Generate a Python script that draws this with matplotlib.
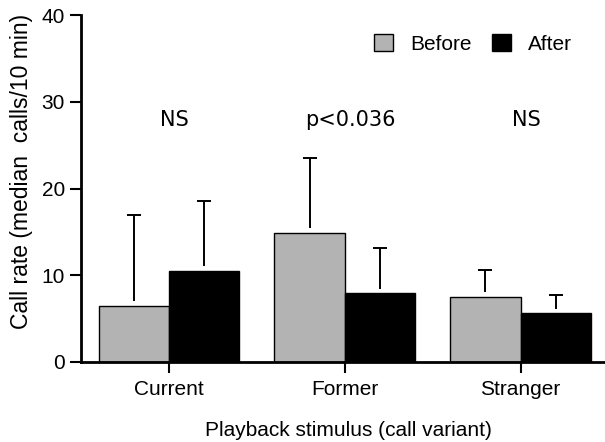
import numpy as np
import matplotlib.pyplot as plt

# median call rates before / after playback, with upper error limits
stimulus = ["Current", "Former", "Stranger"]
before = [6.5, 14.9, 7.5]
after = [10.5, 7.9, 5.6]
before_hi = [17.0, 23.5, 10.6]
after_hi = [18.6, 13.1, 7.7]
stats = ["NS", "p<0.036", "NS"]

plt.rcParams['font.family'] = ['Liberation Sans', 'DejaVu Sans']

fig = plt.figure(figsize=(6.05, 4.42), dpi=100)
ax = fig.add_axes([0.134, 0.181, 0.866, 0.785])

x = np.arange(len(stimulus))
w = 0.4
gap = 0.55  # error lines start a little above the bar top

ax.bar(x - w / 2, before, w, color='#b3b3b3', edgecolor='black', linewidth=1, label="Before")
ax.bar(x + w / 2, after, w, color='black', edgecolor='black', linewidth=1, label="After")

for xs, vals, his in [(x - w / 2, before, before_hi), (x + w / 2, after, after_hi)]:
    vals = np.array(vals)
    his = np.array(his)
    ax.vlines(xs, vals + gap, his, color='black', linewidth=1.4)
    ax.hlines(his, xs - 0.04, xs + 0.04, color='black', linewidth=1.4)

for xi, s in zip(x, stats):
    ax.text(xi + 0.03, 27.9, s, ha='center', va='center', fontsize=15, family='DejaVu Sans')

ax.set_xlim(-0.5, 2.48)
ax.set_ylim(0, 40)
ax.set_yticks([0, 10, 20, 30, 40])
ax.set_xticks(x)
ax.set_xticklabels(stimulus)
ax.tick_params(axis='both', labelsize=15, width=1.5, length=8, direction='out')
ax.tick_params(axis='x', pad=5)

for sp in ['top', 'right']:
    ax.spines[sp].set_visible(False)
for sp in ['left', 'bottom']:
    ax.spines[sp].set_linewidth(2)

ax.set_ylabel("Call rate (median  calls/10 min)", fontsize=16.5)
ax.yaxis.set_label_coords(-0.092, 0.55)
ax.set_xlabel("Playback stimulus (call variant)", fontsize=15)
ax.xaxis.set_label_coords(0.51, -0.17)

ax.legend(loc='upper right', bbox_to_anchor=(0.972, 1.0), ncol=2, frameon=False,
          fontsize=15, handlelength=0.9, handleheight=0.9, columnspacing=1.0,
          handletextpad=0.8)

fig.savefig("out.png", dpi=100)
